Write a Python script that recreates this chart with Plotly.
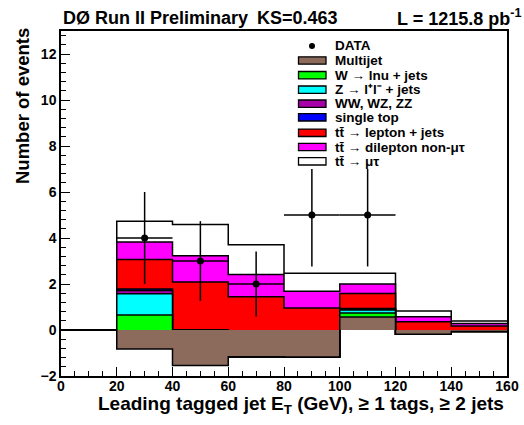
import numpy as np
import plotly.graph_objects as go

# ---------------- data ----------------
bin_edges = [0, 20, 40, 60, 80, 100, 120, 140, 160]

multijet = [0, -0.83, -1.54, -1.16, -1.17, 0.57, -0.19, -0.07]
wjets = [0, 1.48, 1.54, 0, 0, 0.17, 0, 0]
zjets = [0, 0.93, 0, 0, 0, 0.13, 0, 0]
diboson = [0, 0.14, 0, 0, 0, 0.03, 0, 0]
singletop = [0, 0.06, 0, 0, 0, 0.03, 0, 0]
tt_ljets = [0, 1.28, 2.09, 2.61, 2.13, 0.66, 0.55, 0.24]
tt_dilep = [0, 0.77, 1.14, 0.96, 0.73, 0.41, 0.22, 0.11]
tt_mutau = [0, 0.90, 1.36, 1.30, 0.78, 0.47, 0.25, 0.11]

data_x = [30, 50, 70, 90, 110]
data_y = [4, 3, 2, 5, 5]

process_names = ["Multijet", "W \u2192 lnu + jets", "Z \u2192 l\u207al\u207b + jets",
                 "WW, WZ, ZZ", "single top", "tt\u0304 \u2192 lepton + jets",
                 "tt\u0304 \u2192 dilepton non-\u03bc\u03c4", "tt\u0304 \u2192 \u03bc\u03c4"]
process_colors = ["#8c6a5c", "#00ff00", "#00ffff", "#a600a6", "#0000ff",
                  "#ff0000", "#ff00ff", "#ffffff"]
processes = [multijet, wjets, zjets, diboson, singletop, tt_ljets, tt_dilep, tt_mutau]

# ---------------- figure ----------------
W, H = 524, 425
ML, MR, MT, MB = 61, 17, 31, 49
PW, PH = W - ML - MR, H - MT - MB
FONT = "Liberation Sans, Arial, Helvetica, sans-serif"


def px(xp):
    return (xp - ML) / PW


def py(yp):
    return (H - MB - yp) / PH


fig = go.Figure()

cum = np.cumsum(np.array(processes, dtype=float), axis=0)
# draw largest stack first (ROOT THStack style), each filled from zero
for i in range(len(processes) - 1, -1, -1):
    vals = list(cum[i]) + [cum[i][-1]]
    fig.add_trace(go.Scatter(
        x=bin_edges, y=vals, mode="lines", line_shape="hv",
        fill="tozeroy", fillcolor=process_colors[i],
        line=dict(color="black", width=1.5), hoverinfo="skip", showlegend=False))

fig.add_trace(go.Scatter(
    x=data_x, y=data_y, mode="markers",
    marker=dict(color="black", size=7),
    error_y=dict(type="data", array=list(np.sqrt(data_y)), width=0, thickness=1.5, color="black"),
    error_x=dict(type="constant", value=10, width=0, thickness=1.5, color="black"),
    showlegend=False))

shapes = []
annotations = []

# legend background
shapes.append(dict(type="rect", xref="paper", yref="paper", layer="above",
                   x0=px(293), x1=px(490), y0=py(169), y1=py(36),
                   fillcolor="white", line=dict(width=0)))
# DATA marker
shapes.append(dict(type="circle", xref="paper", yref="paper", layer="above",
                   x0=px(309), x1=px(315), y0=py(49), y1=py(43),
                   fillcolor="black", line=dict(width=0)))
annotations.append(dict(xref="paper", yref="paper", x=px(333), y=py(46),
                        xanchor="left", yanchor="middle", showarrow=False,
                        text="<b>DATA</b>", font=dict(family=FONT, size=13.5, color="black")))
leg_y = [60.5, 75.2, 89.7, 103.7, 117.3, 132.8, 147, 161.3]
for i, name in enumerate(process_names):
    yc = leg_y[i]
    shapes.append(dict(type="rect", xref="paper", yref="paper", layer="above",
                       x0=px(298.5), x1=px(326), y0=py(yc + 3.7), y1=py(yc - 3.7),
                       fillcolor=process_colors[i], line=dict(color="black", width=1.3)))
    annotations.append(dict(xref="paper", yref="paper", x=px(333), y=py(yc),
                            xanchor="left", yanchor="middle", showarrow=False,
                            text="<b>" + name + "</b>",
                            font=dict(family=FONT, size=13.5, color="black")))

# titles
annotations.append(dict(xref="paper", yref="paper", x=px(61), y=py(18),
                        xanchor="left", yanchor="middle", showarrow=False,
                        text="<b>D\u00d8 Run II Preliminary</b>",
                        font=dict(family=FONT, size=18, color="black")))
annotations.append(dict(xref="paper", yref="paper", x=px(255), y=py(18),
                        xanchor="left", yanchor="middle", showarrow=False,
                        text="<b>KS=0.463</b>",
                        font=dict(family=FONT, size=18, color="black")))
annotations.append(dict(xref="paper", yref="paper", x=px(523), y=py(18),
                        xanchor="right", yanchor="middle", showarrow=False,
                        text="<b>L = 1215.8 pb<sup>-1</sup></b>",
                        font=dict(family=FONT, size=18, color="black")))
annotations.append(dict(xref="paper", yref="paper", x=px(506), y=py(405),
                        xanchor="right", yanchor="middle", showarrow=False,
                        text="<b>Leading tagged jet E<sub>T</sub> (GeV), \u2265 1 tags, \u2265 2 jets</b>",
                        font=dict(family=FONT, size=19, color="black")))
annotations.append(dict(xref="paper", yref="paper", x=px(23), y=py(106),
                        xanchor="center", yanchor="middle", showarrow=False, textangle=-90,
                        text="<b>Number of events</b>",
                        font=dict(family=FONT, size=18.5, color="black")))

fig.update_layout(
    template="none",
    width=W, height=H,
    margin=dict(l=ML, r=MR, t=MT, b=MB, autoexpand=False),
    paper_bgcolor="white", plot_bgcolor="white",
    showlegend=False,
    shapes=shapes, annotations=annotations,
    xaxis=dict(range=[0, 160], dtick=20, tick0=0, ticks="inside", ticklen=9,
               tickwidth=1, tickcolor="black", ticklabelstandoff=-4, automargin=False,
               minor=dict(dtick=5, ticks="inside", ticklen=5, tickcolor="black"),
               showline=True, linecolor="black", linewidth=1.5, mirror=True,
               showgrid=False, zeroline=False,
               tickfont=dict(family=FONT, size=14, color="black", weight="bold")),
    yaxis=dict(range=[-2, 13], dtick=2, tick0=0, ticks="inside", ticklen=9,
               tickwidth=1, tickcolor="black", automargin=False,
               minor=dict(dtick=0.4, tick0=0, ticks="inside", ticklen=5, tickcolor="black"),
               showline=True, linecolor="black", linewidth=1.5, mirror=True,
               showgrid=False, zeroline=False,
               tickfont=dict(family=FONT, size=14, color="black", weight="bold")),
)

fig.write_html("out.html", config={"displayModeBar": False},
               post_script="document.body.style.margin='0px';")
